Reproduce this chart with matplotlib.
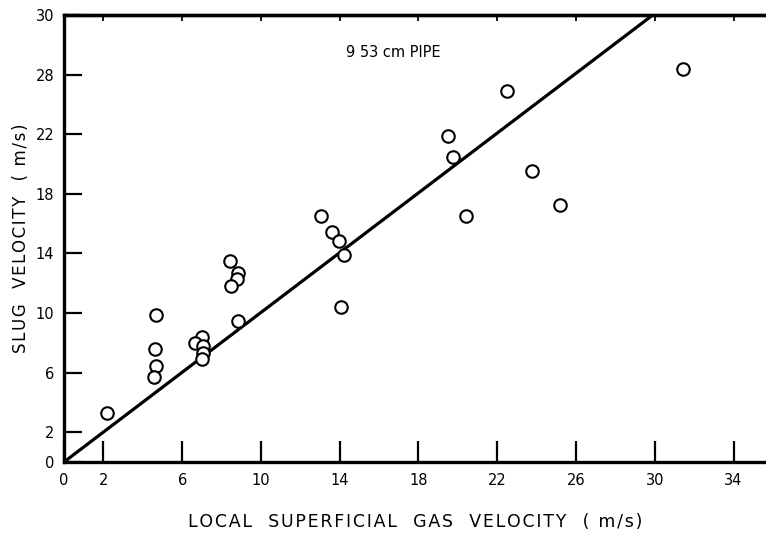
import numpy as np
import matplotlib
matplotlib.use("Agg")
import matplotlib.pyplot as plt

# gas velocity (m/s) vs slug velocity (m/s)
gas_vel = [2.17, 4.66, 4.62, 4.67, 4.59,
           6.99, 6.65, 7.07, 7.07, 6.99,
           8.43, 8.85, 8.77, 8.48, 8.85,
           13.05, 13.63, 13.97, 14.22, 14.07,
           19.49, 19.74, 20.42, 22.48, 23.78, 25.19, 31.42]
slug_vel = [3.31, 9.89, 7.56, 6.44, 5.72,
            8.41, 8.01, 7.79, 7.30, 6.89,
            13.51, 12.66, 12.26, 11.81, 9.46,
            16.51, 15.42, 14.83, 13.89, 10.40,
            21.88, 20.44, 16.51, 24.90, 19.53, 17.25, 26.38]

# fitted line
line_x = [0.0, 29.9]
line_y = [0.0, 30.0]

xticks = [0, 2, 6, 10, 14, 18, 22, 26, 30, 34]
xticklabels = ['0', '2', '6', '10', '14', '18', '22', '26', '30', '34']
yticks = [0, 2, 6, 10, 14, 18, 22, 26, 30]
yticklabels = ['0', '2', '6', '10', '14', '18', '22', '28', '30']


def spaced(s):
    # wide letter spacing like the typed original
    return '\u200a'.join(s)


plt.rcParams['font.family'] = 'DejaVu Sans'

fig = plt.figure(figsize=(7.66, 5.38), dpi=100)
ax = fig.add_axes([64/766, 76/538, 702/766, 447/538])

ax.plot(line_x, line_y, color='black', lw=2.3, solid_capstyle='butt')
ax.plot(gas_vel, slug_vel, 'o', mfc='white', mec='black', ms=9, mew=1.5,
        linestyle='none')

ax.set_xlim(0, 35.65)
ax.set_ylim(0, 30)

for s in ['left', 'bottom', 'top']:
    ax.spines[s].set_linewidth(2.4)
ax.spines['right'].set_visible(False)

ax.set_xticks(xticks)
ax.set_xticklabels(xticklabels)
ax.set_yticks(yticks)
ax.set_yticklabels(yticklabels)
ax.tick_params(axis='x', direction='in', length=15, width=1.6, pad=8,
               labelsize=10.5)
ax.tick_params(axis='y', direction='in', length=13, width=1.6, pad=7,
               labelsize=10.5)

top = ax.secondary_xaxis('top')
top.set_xticks(xticks[1:])
top.tick_params(direction='in', length=4, width=1.3, labeltop=False)
top.spines['top'].set_linewidth(2.4)

ax.text(14.3, 27.5, '9 53 cm PIPE', fontsize=10.5, ha='left', va='center')

ax.set_xlabel(spaced('LOCAL  SUPERFICIAL  GAS  VELOCITY  ( m/s)'),
              fontsize=12.5, labelpad=18)
ax.set_ylabel(spaced('SLUG  VELOCITY  ( m/s)'), fontsize=12, labelpad=4)

fig.savefig('out.png', dpi=100)
